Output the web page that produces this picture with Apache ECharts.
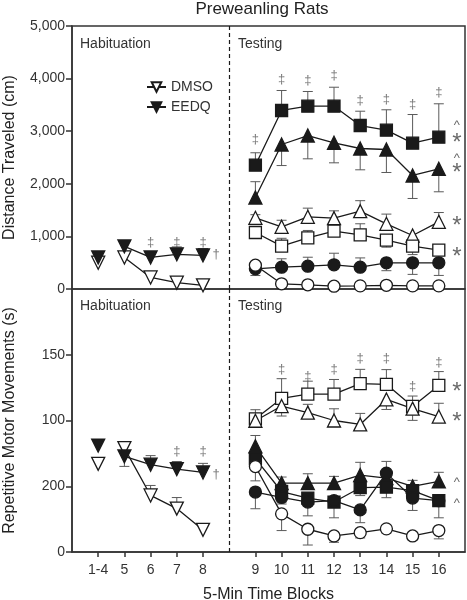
<!DOCTYPE html>
<html>
<head>
<meta charset="utf-8">
<script src="https://cdn.jsdelivr.net/npm/echarts@6/dist/echarts.min.js"></script>
<style>
html,body{margin:0;padding:0;background:#fff;}
#c{width:467px;height:600px;}
</style>
</head>
<body>
<div id="c"></div>
<script>
// ---------------- DATA ----------------
const xLabels = ['', '1-4', '5', '6', '7', '8', '', '9', '10', '11', '12', '13', '14', '15', '16', ''];
const habLabels = ['1-4', '5', '6', '7', '8'];
const testLabels = ['9', '10', '11', '12', '13', '14', '15', '16'];
const topYTicks = ['0', '1,000', '2,000', '3,000', '4,000', '5,000'];
const botYTicks = ['0', '200', '100', '150', ''];

// Top panel: Distance Traveled (cm)
const dmsoTop = [500, 600, 220, 120, 70];
const dmsoTopErr = [0, 0, 0, 0, 0];
const eedqTop = [600, 810, 600, 660, 640];
const eedqTopErr = [0, 0, 0, 140, 130];

const fSqTop = [2354, 3394, 3475, 3475, 3108, 3019, 2772, 2886];
const fSqTopErr = [236, 380, 280, 361, 272, 388, 545, 635];
const fTriTop = [1740, 2747, 2918, 2779, 2671, 2652, 2158, 2285];
const fTriTopErr = [300, -400, -443, -380, -405, -437, -437, -437];
const oTriTop = [1353, 1182, 1372, 1346, 1479, 1239, 1017, 1277];
const oTriTopErr = [60, 125, 165, 140, 200, 185, 0, 177];
const oSqTop = [1074, 814, 973, 1099, 1030, 928, 814, 738];
const oSqTopErr = [0, 150, 140, 120, 210, -133, -160, 0];
const fCirTop = [384, 414, 433, 460, 414, 498, 498, 498];
const fCirTopErr = [130, 160, 171, 220, 177, -150, -220, -240];
const oCirTop = [452, 99, 80, 53, 60, 70, 60, 60];
const oCirTopErr = [-196, -60, -60, -60, -60, -60, -80, -80];

// Bottom panel: Repetitive Motor Movements (s)
const dmsoBot = [67, 79, 43, 33, 16.8];
const dmsoBotErr = [0, 0, 7.6, 8.4, 0];
const eedqBot = [80.9, 72.7, 66.4, 63, 60.5];
const eedqBotErr = [3.8, -7.6, 6.9, 5.8, 6.9];

const oSqBot = [101.3, 116.8, 120, 120, 128, 127.5, 110.7, 126.7];
const oSqBotErr = [6.9, 15, 9.9, 11.2, 10.9, 11.2, 7.9, 10.5];
const oTriBot = [99.8, 111, 106, 100, 97, 116, 109, 103];
const oTriBotErr = [-3, -7.6, 6.3, 8.9, 8.4, -7.6, -8.9, 10.1];
const fTriBot = [80.4, 52.4, 52.4, 52.4, 58.5, 56.2, 49.9, 53.7];
const fTriBotErr = [8.2, 4.6, 7.1, 5.1, 9.7, 4, 4.6, 6.9];
const fSqBot = [71, 46, 41, 38, 48.9, 49.3, 46.6, 39];
const fSqBotErr = [-5, -8, -6, -12, -6, -8, -6, -13];
const fCirBot = [45.6, 41.5, 38, 39, 32, 60, 41, 39];
const fCirBotErr = [-12.7, -5, -10.5, -5, -9.7, 8.9, -9.4, -4];
const oCirBot = [65, 29, 17.3, 12.2, 14.7, 17.6, 12.2, 16.3];
const oCirBotErr = [-10.9, -12.7, -12, -4.8, -4, -3, -3, -6.3];

// Significance annotations [category, value]
const topSigHab = [['6', 890], ['7', 890], ['8', 890]];
const topSigTest = [['9', 2842], ['10', 3983], ['11', 3964], ['12', 4060], ['13', 3584], ['14', 3603], ['15', 3508], ['16', 3736]];
const topDaggerHab = [['8', 656]];
const topRightMarks = [['^', 3165], ['*', 2880], ['^', 2538], ['*', 2310], ['*', 1300], ['*', 713]];
const botSigHab = [['7', 76.6], ['8', 76.6]];
const botSigTest = [['10', 139], ['11', 133.4], ['12', 139], ['13', 147], ['14', 147], ['15', 126.2], ['16', 144.5]];
const botDaggerHab = [['8', 58.8]];
const botRightMarks = [['*', 125.7], ['*', 103.3], ['^', 55], ['^', 39.2]];

// ---------------- BUILD ----------------
const idx = l => xLabels.indexOf(l);
const habIdx = habLabels.map(idx);
const testIdx = testLabels.map(idx);
const dividerIdx = idx('8') + 1;
const INK = '#1a1a1a';
const ERR = '#5a5a5a';
const FONT = '"Liberation Sans", Arial, sans-serif';

function pairs(xs, ys) { return ys.map((v, i) => [xs[i], v]); }
function triples(xs, ys, es) { return ys.map((v, i) => [xs[i], v, es[i]]); }

function renderErr(params, api) {
  const e = api.value(2);
  if (!e) return;
  const x = api.value(0), y = api.value(1);
  const p0 = api.coord([x, y]);
  const p1 = api.coord([x, y + e]);
  const w = 5;
  return {
    type: 'group',
    children: [
      { type: 'line', shape: { x1: p0[0], y1: p0[1], x2: p1[0], y2: p1[1] }, style: { stroke: ERR, lineWidth: 1 } },
      { type: 'line', shape: { x1: p1[0] - w, y1: p1[1], x2: p1[0] + w, y2: p1[1] }, style: { stroke: ERR, lineWidth: 1 } }
    ]
  };
}

function errSeries(gi, xs, ys, es) {
  return {
    type: 'custom', xAxisIndex: gi, yAxisIndex: gi, renderItem: renderErr,
    data: triples(xs, ys, es), z: 2, silent: true, encode: { x: 0, y: 1 }
  };
}

const shapes = {
  tri: { symbol: 'triangle', size: 13, rot: 0 },
  dtri: { symbol: 'triangle', size: 13, rot: 180 },
  sq: { symbol: 'rect', size: 12, rot: 0 },
  cir: { symbol: 'circle', size: 12, rot: 0 }
};

function lineSeries(name, gi, data, shape, filled, showLine) {
  const s = shapes[shape];
  return {
    name: name, type: 'line', xAxisIndex: gi, yAxisIndex: gi, data: data,
    symbol: s.symbol, symbolSize: s.size, symbolRotate: s.rot, showSymbol: true,
    lineStyle: { color: INK, width: showLine ? 1.3 : 0, opacity: showLine ? 1 : 0 },
    itemStyle: { color: filled ? INK : '#fff', borderColor: INK, borderWidth: 1.3 },
    emphasis: { disabled: true }, z: 3, animation: false
  };
}

function groupSeries(name, gi, xs, ys, es, shape, filled) {
  return [errSeries(gi, xs, ys, es), lineSeries(name, gi, pairs(xs, ys), shape, filled, true)];
}

function habSeries(name, gi, ys, es, filled) {
  // first block (1-4) stands alone, blocks 5-8 are connected
  return [
    errSeries(gi, habIdx, ys, es),
    lineSeries(name, gi, pairs(habIdx.slice(1), ys.slice(1)), 'dtri', filled, true),
    lineSeries(name + ' (1-4)', gi, [[habIdx[0], ys[0]]], 'dtri', filled, false)
  ];
}

function annot(gi, items, text, size, offset, color) {
  return {
    type: 'scatter', xAxisIndex: gi, yAxisIndex: gi, symbolSize: 1,
    itemStyle: { color: 'rgba(0,0,0,0)' }, silent: true, z: 5,
    data: items.map(it => [idx(it[0]), it[1]]),
    label: {
      show: true, position: 'inside', offset: offset || [0, 0],
      formatter: () => text, fontSize: size, color: color || '#555', fontFamily: FONT
    }
  };
}
function rightMarks(gi, items) {
  return items.map(it => ({
    type: 'scatter', xAxisIndex: gi, yAxisIndex: gi, symbolSize: 1,
    itemStyle: { color: 'rgba(0,0,0,0)' }, silent: true, z: 5,
    data: [[idx('16'), it[1]]],
    label: {
      show: true, position: 'inside', formatter: it[0],
      offset: it[0] === '*' ? [18, 6] : [18, 3],
      fontSize: it[0] === '*' ? 24 : 13, color: '#444', fontFamily: FONT
    }
  }));
}

const divider = {
  type: 'line', data: [], xAxisIndex: 0, yAxisIndex: 0,
  markLine: {
    silent: true, symbol: ['none', 'none'], label: { show: false },
    lineStyle: { color: INK, type: [4, 3], width: 1.2 },
    data: [{ xAxis: dividerIdx }], animation: false
  }
};
const divider2 = Object.assign({}, divider, { xAxisIndex: 1, yAxisIndex: 1 });

const series = [].concat(
  habSeries('DMSO', 0, dmsoTop, dmsoTopErr, false),
  habSeries('EEDQ', 0, eedqTop, eedqTopErr, true),
  groupSeries('fSqTop', 0, testIdx, fSqTop, fSqTopErr, 'sq', true),
  groupSeries('fTriTop', 0, testIdx, fTriTop, fTriTopErr, 'tri', true),
  groupSeries('oTriTop', 0, testIdx, oTriTop, oTriTopErr, 'tri', false),
  groupSeries('oSqTop', 0, testIdx, oSqTop, oSqTopErr, 'sq', false),
  groupSeries('fCirTop', 0, testIdx, fCirTop, fCirTopErr, 'cir', true),
  groupSeries('oCirTop', 0, testIdx, oCirTop, oCirTopErr, 'cir', false),
  habSeries('DMSO', 1, dmsoBot, dmsoBotErr, false),
  habSeries('EEDQ', 1, eedqBot, eedqBotErr, true),
  groupSeries('oSqBot', 1, testIdx, oSqBot, oSqBotErr, 'sq', false),
  groupSeries('oTriBot', 1, testIdx, oTriBot, oTriBotErr, 'tri', false),
  groupSeries('fTriBot', 1, testIdx, fTriBot, fTriBotErr, 'tri', true),
  groupSeries('fSqBot', 1, testIdx, fSqBot, fSqBotErr, 'sq', true),
  groupSeries('fCirBot', 1, testIdx, fCirBot, fCirBotErr, 'cir', true),
  groupSeries('oCirBot', 1, testIdx, oCirBot, oCirBotErr, 'cir', false),
  [annot(0, topSigHab, '‡', 13), annot(0, topSigTest, '‡', 13), annot(0, topDaggerHab, '†', 13, [13, 0]),
   annot(1, botSigHab, '‡', 13), annot(1, botSigTest, '‡', 13), annot(1, botDaggerHab, '†', 13, [13, 0])],
  rightMarks(0, topRightMarks),
  rightMarks(1, botRightMarks),
  [divider, divider2]
);

const gridL = 72, gridW = 393;
const chart = echarts.init(document.getElementById('c'), null, { renderer: 'canvas' });
chart.setOption({
  animation: false,
  backgroundColor: '#fff',
  textStyle: { fontFamily: FONT },
  grid: [
    { left: gridL, top: 26, width: gridW, height: 263, show: true, borderColor: '#333', borderWidth: 1.5, backgroundColor: 'transparent', containLabel: false, outerBoundsMode: 'none' },
    { left: gridL, top: 289, width: gridW, height: 263, show: true, borderColor: '#333', borderWidth: 1.5, backgroundColor: 'transparent', containLabel: false, outerBoundsMode: 'none' }
  ],
  xAxis: [
    { type: 'category', gridIndex: 0, data: xLabels, boundaryGap: false,
      axisLine: { show: false }, axisTick: { show: false }, axisLabel: { show: false }, splitLine: { show: false } },
    { type: 'category', gridIndex: 1, data: xLabels, boundaryGap: false,
      axisLine: { show: true, lineStyle: { color: '#333', width: 1.5 } },
      axisTick: { show: true, length: 5, inside: false, interval: (i, v) => v !== '', lineStyle: { color: '#333', width: 1.5 } },
      axisLabel: { show: true, interval: (i, v) => v !== '', fontSize: 14, color: '#333', margin: 11, fontFamily: FONT },
      splitLine: { show: false },
      name: '5-Min Time Blocks', nameLocation: 'middle', nameGap: 35,
      nameTextStyle: { fontSize: 16, color: '#222', fontFamily: FONT } }
  ],
  yAxis: [
    { type: 'value', gridIndex: 0, min: 0, max: 5000, interval: 1000,
      axisLine: { show: true, lineStyle: { color: '#333', width: 1.5 } },
      axisTick: { show: true, length: 6, lineStyle: { color: '#333', width: 1.5 } },
      axisLabel: { fontSize: 14, color: '#333', margin: 7, formatter: (v, i) => topYTicks[i], fontFamily: FONT },
      splitLine: { show: false },
      name: 'Distance Traveled (cm)', nameLocation: 'middle', nameGap: 54, nameRotate: 90,
      nameTextStyle: { fontSize: 16, color: '#222', fontFamily: FONT } },
    { type: 'value', gridIndex: 1, min: 0, max: 200, interval: 50,
      axisLine: { show: true, lineStyle: { color: '#333', width: 1.5 } },
      axisTick: { show: true, length: 6, lineStyle: { color: '#333', width: 1.5 } },
      axisLabel: { fontSize: 14, color: '#333', margin: 7, formatter: (v, i) => botYTicks[i], fontFamily: FONT },
      splitLine: { show: false },
      name: 'Repetitive Motor Movements (s)', nameLocation: 'middle', nameGap: 54, nameRotate: 90,
      nameTextStyle: { fontSize: 16, color: '#222', fontFamily: FONT } }
  ],
  legend: {
    data: ['DMSO', 'EEDQ'], orient: 'vertical', left: 141, top: 75,
    itemWidth: 19, itemHeight: 12, itemGap: 6,
    textStyle: { fontSize: 14, color: '#333', fontFamily: FONT }, selectedMode: false
  },
  graphic: [
    { type: 'text', x: 262, y: 9, style: { text: 'Preweanling Rats', font: '17px ' + FONT, fill: '#222', textAlign: 'center', textVerticalAlign: 'middle' } },
    { type: 'text', x: 80, y: 44, style: { text: 'Habituation', font: '14px ' + FONT, fill: '#333', textVerticalAlign: 'middle' } },
    { type: 'text', x: 238, y: 44, style: { text: 'Testing', font: '14px ' + FONT, fill: '#333', textVerticalAlign: 'middle' } },
    { type: 'text', x: 80, y: 306, style: { text: 'Habituation', font: '14px ' + FONT, fill: '#333', textVerticalAlign: 'middle' } },
    { type: 'text', x: 238, y: 306, style: { text: 'Testing', font: '14px ' + FONT, fill: '#333', textVerticalAlign: 'middle' } }
  ],
  series: series
});
</script>
</body>
</html>
